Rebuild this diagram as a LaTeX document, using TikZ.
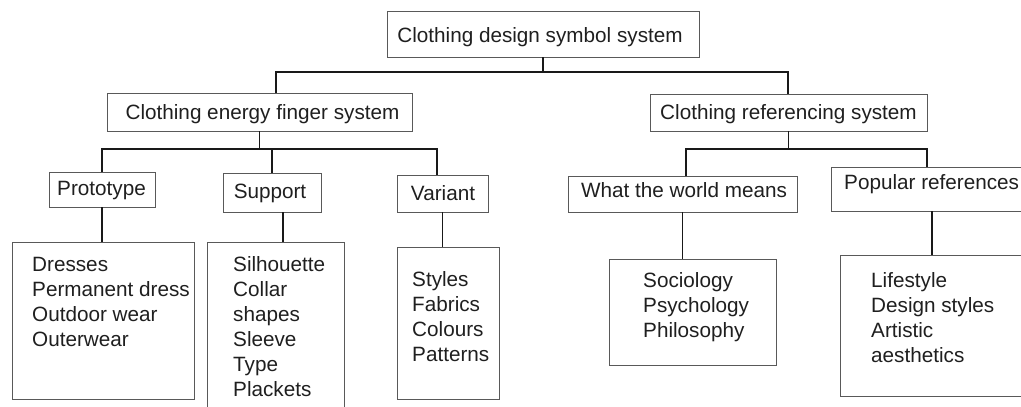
\documentclass[tikz,border=0pt]{standalone}
\usepackage{fontspec}
\setmainfont{Liberation Sans}
\begin{document}
\begin{tikzpicture}[x=1pt,y=-1pt,
  box/.style={draw=black!65, line width=0.9pt, inner sep=0pt, outer sep=0pt},
  conn/.style={draw=black!90, line width=1.2pt},
  lbl/.style={inner sep=0pt, anchor=base, text=black!88, font=\fontsize{20.7}{25}\selectfont},
  item/.style={lbl, anchor=base west}]
\useasboundingbox (0,0) rectangle (1021,407);
% boxes
\node[box, minimum width=312pt, minimum height=46pt] (top) at (543,34) {};
\node[box, minimum width=305pt, minimum height=38pt] (energy) at (259.5,112) {};
\node[box, minimum width=277pt, minimum height=37pt] (ref) at (788.5,112.5) {};
\node[box, minimum width=106pt, minimum height=35pt] (proto) at (102,189.5) {};
\node[box, minimum width=98pt, minimum height=39pt] (support) at (272,192.5) {};
\node[box, minimum width=91pt, minimum height=37pt] (variant) at (442.5,193.5) {};
\node[box, minimum width=229pt, minimum height=36pt] (wtwm) at (682.5,194) {};
\node[box, minimum width=209pt, minimum height=44pt] (popular) at (935.5,189) {};
\node[box, minimum width=182pt, minimum height=157pt] (dresses) at (103,320.5) {};
\node[box, minimum width=137pt, minimum height=178pt] (supitems) at (275.5,331) {};
\node[box, minimum width=102pt, minimum height=152pt] (varitems) at (448,323) {};
\node[box, minimum width=167pt, minimum height=106pt] (socio) at (692.5,312) {};
\node[box, minimum width=200pt, minimum height=141pt] (life) at (940,325.5) {};
% labels
\node[lbl] (topt) at (540,42.5) {Clothing design symbol system};
\node[lbl] (energyt) at (262.5,119) {Clothing energy finger system};
\node[lbl] (reft) at (788.5,119) {Clothing referencing system};
\node[lbl] (protot) at (101.5,195) {Prototype};
\node[lbl] (supportt) at (270,198) {Support};
\node[lbl] (variantt) at (443,200) {Variant};
\node[lbl] (wtwmt) at (684,197) {What the world means};
\node[item] (populart) at (844,189) {Popular references};
\foreach \t [count=\i from 0] in {Dresses, Permanent dress, Outdoor wear, Outerwear}
  \node[item] (d\i) at (32,{271+25*\i}) {\t};
\foreach \t [count=\i from 0] in {Silhouette, Collar, shapes, Sleeve, Type, Plackets}
  \node[item] (s\i) at (233,{271+25*\i}) {\t};
\foreach \t [count=\i from 0] in {Styles, Fabrics, Colours, Patterns}
  \node[item] (v\i) at (412,{286+25*\i}) {\t};
\foreach \t [count=\i from 0] in {Sociology, Psychology, Philosophy}
  \node[item] (w\i) at (643,{287+25*\i}) {\t};
\foreach \t [count=\i from 0] in {Lifestyle, Design styles, Artistic, aesthetics}
  \node[item] (p\i) at (871,{287+25*\i}) {\t};
% junction coordinates
\coordinate (busAl) at (276,72);
\coordinate (busAr) at (788,72);
\coordinate (busBl) at (102,149);
\coordinate (busBr) at (437,149);
\coordinate (busCl) at (686,149);
\coordinate (busCr) at (927,149);
\coordinate (xs) at (283,0);
\coordinate (xp) at (932,0);
% connectors
\draw[conn] (top.south) -- (top.south |- busAl);
\draw[conn] (energy.north -| busAl) -- (busAl) -- (busAr) -- (ref.north -| busAr);
\draw[conn] (energy.south) -- (energy.south |- busBl);
\draw[conn] (proto.north) -- (proto.north |- busBl) -- (busBr) -- (variant.north -| busBr);
\draw[conn] (support.north) -- (support.north |- busBl);
\draw[conn] (ref.south) -- (ref.south |- busCl);
\draw[conn] (wtwm.north -| busCl) -- (busCl) -- (busCr) -- (popular.north -| busCr);
\draw[conn] (proto.south) -- (proto.south |- dresses.north);
\draw[conn] (support.south -| xs) -- (supitems.north -| xs);
\draw[conn] (variant.south) -- (variant.south |- varitems.north);
\draw[conn] (wtwm.south) -- (wtwm.south |- socio.north);
\draw[conn] (popular.south -| xp) -- (life.north -| xp);
\end{tikzpicture}
\end{document}
